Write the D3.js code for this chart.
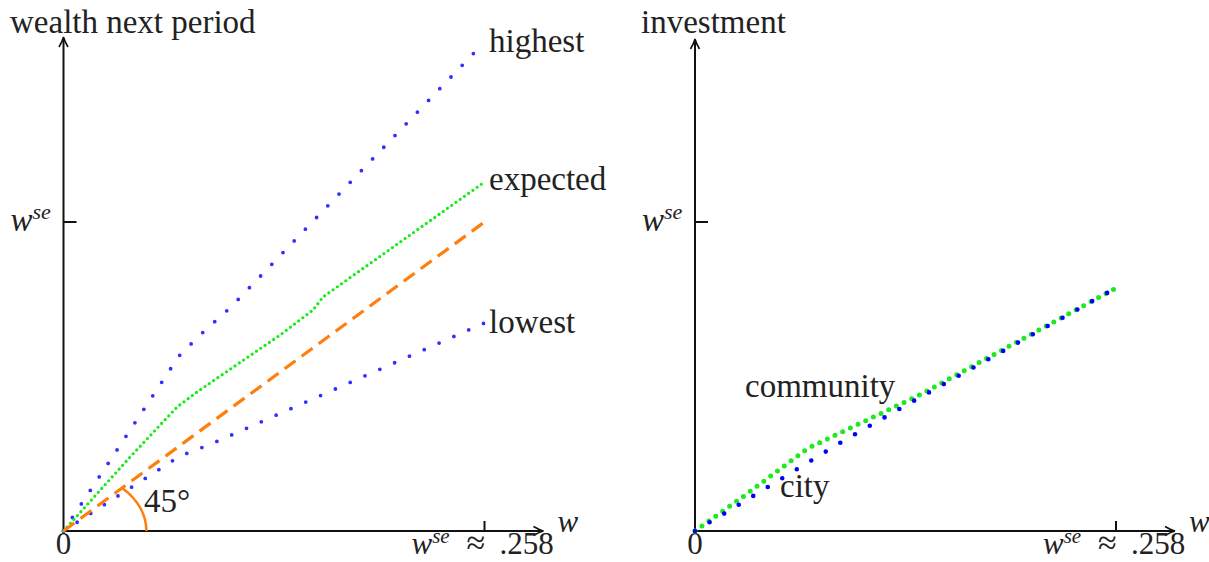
<!DOCTYPE html>
<html>

<head>
<script src="https://d3js.org/d3.v7.min.js"></script>
<style>
  body { margin: 0; background: #fff; }
</style>
</head>

<body>
  <script>
    var width = 1209,
      height = 562;

    var wse = 0.258;

    // left panel: wealth next period
    var highX = [0, 0.0708, 0.0830, 0.1026, 0.258],
      highY = [0, 0.1461, 0.1628, 0.1870, 0.4083];
    var expX = [0, 0.0408, 0.0696, 0.0818, 0.1327, 0.1529, 0.1590, 0.258],
      expY = [0, 0.0618, 0.1035, 0.1161, 0.1636, 0.1845, 0.1954, 0.2914];
    var lowX = [0, 0.0714, 0.0904, 0.258],
      lowY = [0, 0.0626, 0.0726, 0.1737];
    var diagX = [0, 0.258],
      diagY = [0, 0.258];

    // right panel: investment
    var commX = [0, 0.0294, 0.0691, 0.0734, 0.1377, 0.2570],
      commY = [0, 0.0286, 0.0690, 0.0718, 0.1136, 0.2021];
    var cityX = [0, 0.0196, 0.0918, 0.1285, 0.2472, 0.2570],
      cityY = [0, 0.0159, 0.0760, 0.1044, 0.1948, 0.2021];

    var serif = "'Liberation Serif', 'DejaVu Serif', 'Times New Roman', Times, serif";

    var svg = d3.select("body").append("svg")
      .attr("width", width)
      .attr("height", height)
      .attr("font-family", serif)
      .style("font-family", serif);

    function pts(xs, ys) {
      return xs.map(function(d, i) { return [d, ys[i]]; });
    }

    function label(g, x, y, s) {
      return g.append("text").attr("x", x).attr("y", y)
        .attr("font-family", serif).attr("font-size", 33)
        .attr("fill", "#222").text(s);
    }

    function makePanel(x0, yTip, title, titleX) {
      var x = d3.scaleLinear().domain([0, wse]).range([x0, x0 + 421]);
      var y = d3.scaleLinear().domain([0, wse]).range([531, 222]);
      var g = svg.append("g");

      // axes
      g.append("line").attr("x1", x(0)).attr("x2", x(0) + 478)
        .attr("y1", y(0)).attr("y2", y(0))
        .attr("stroke", "#111").attr("stroke-width", 2);
      g.append("line").attr("x1", x(0)).attr("x2", x(0))
        .attr("y1", y(0)).attr("y2", yTip + 1)
        .attr("stroke", "#111").attr("stroke-width", 2);

      // arrow heads
      var ax = x(0) + 480, ay = y(0);
      g.append("path")
        .attr("d", "M" + (ax - 10) + "," + (ay - 4.5) + " Q" + (ax - 4) + "," + (ay - 1) + " " + ax + "," + ay +
          " Q" + (ax - 4) + "," + (ay + 1) + " " + (ax - 10) + "," + (ay + 4.5))
        .attr("fill", "none").attr("stroke", "#111").attr("stroke-width", 1.6);
      var tx = x(0);
      g.append("path")
        .attr("d", "M" + (tx - 4.5) + "," + (yTip + 10) + " Q" + (tx - 1) + "," + (yTip + 4) + " " + tx + "," + yTip +
          " Q" + (tx + 1) + "," + (yTip + 4) + " " + (tx + 4.5) + "," + (yTip + 10))
        .attr("fill", "none").attr("stroke", "#111").attr("stroke-width", 1.6);

      // ticks
      g.append("line").attr("x1", x(wse)).attr("x2", x(wse))
        .attr("y1", y(0)).attr("y2", y(0) - 10)
        .attr("stroke", "#111").attr("stroke-width", 2);
      g.append("line").attr("x1", x(0)).attr("x2", x(0) + 13)
        .attr("y1", y(wse)).attr("y2", y(wse))
        .attr("stroke", "#111").attr("stroke-width", 2);

      // labels
      label(g, titleX, 33, title);
      label(g, x(0), 554, "0").attr("text-anchor", "middle").attr("font-size", 31);

      var yl = label(g, x(0) - 53, 231, null);
      yl.append("tspan").attr("font-style", "italic").text("w");
      yl.append("tspan").attr("font-style", "italic").attr("font-size", 22)
        .attr("dy", -12).text("se");

      var xl = label(g, x(0) + 348, 554, null).attr("font-size", 31);
      xl.append("tspan").attr("font-style", "italic").text("w");
      xl.append("tspan").attr("font-style", "italic").attr("font-size", 21)
        .attr("dy", -11).text("se");
      xl.append("tspan").attr("x", x(0) + 403).attr("dy", 11).attr("font-size", 34).text("\u2248");
      xl.append("tspan").attr("x", x(0) + 436).text(".258");

      label(g, x(0) + 494, 532, "w").attr("font-style", "italic").attr("font-size", 31);

      return { g: g, x: x, y: y };
    }

    function dotted(p, xs, ys, color, w, gap) {
      var line = d3.line().x(function(d) { return p.x(d[0]); }).y(function(d) { return p.y(d[1]); });
      return p.g.append("path")
        .attr("d", line(pts(xs, ys)))
        .attr("fill", "none")
        .attr("stroke", color)
        .attr("stroke-width", w)
        .attr("stroke-linecap", "round")
        .attr("stroke-dasharray", "0," + gap);
    }

    // ---- left panel
    var L = makePanel(63.5, 37, "wealth next period", 10);

    dotted(L, highX, highY, "#2f2fff", 3.8, 16.2);
    dotted(L, lowX, lowY, "#2f2fff", 3.8, 16.2);
    dotted(L, expX, expY, "#11ee11", 3.2, 5.2);

    var diag = d3.line().x(function(d) { return L.x(d[0]); }).y(function(d) { return L.y(d[1]); });
    L.g.append("path")
      .attr("d", diag(pts(diagX, diagY)))
      .attr("fill", "none")
      .attr("stroke", "#ff7f0e")
      .attr("stroke-width", 3.2)
      .attr("stroke-dasharray", "13.5,7.6");

    // 45 degree arc (circle in data units)
    var r = 0.0508;
    var rx = L.x(r) - L.x(0), ry = L.y(0) - L.y(r);
    var ex = L.x(r * Math.SQRT1_2), ey = L.y(r * Math.SQRT1_2);
    L.g.append("path")
      .attr("d", "M" + L.x(r) + "," + L.y(0) + " A" + rx + "," + ry + " 0 0 0 " + ex + "," + ey)
      .attr("fill", "none")
      .attr("stroke", "#ff7f0e")
      .attr("stroke-width", 2.6);

    label(L.g, 144, 512, "45\u00b0");
    label(L.g, 489, 52, "highest");
    label(L.g, 489, 190, "expected");
    label(L.g, 489, 333, "lowest");

    // ---- right panel
    var R = makePanel(695, 39, "investment", 641);

    dotted(R, commX, commY, "#1ee81e", 5, 8.5);
    dotted(R, cityX, cityY, "#0000ff", 4.6, 17);

    label(R.g, 745, 397, "community");
    label(R.g, 780, 497, "city");
  </script>
</body>

</html>
